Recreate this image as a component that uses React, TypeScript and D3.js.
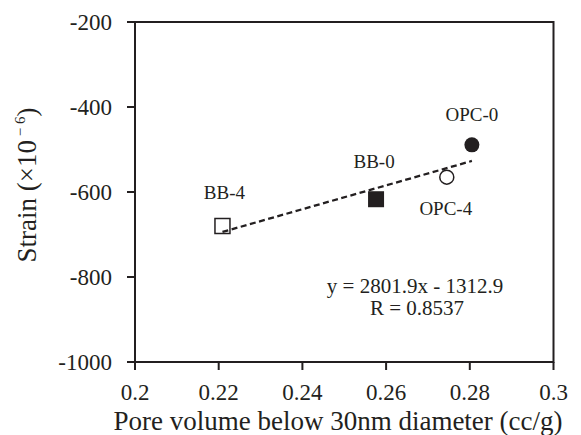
import React from "react";
import * as d3 from "d3";

const samples = ["OPC-0", "OPC-4", "BB-0", "BB-4"];
const poreVolume = [0.2805, 0.2745, 0.2576, 0.2209];
const strain = [-489, -565, -617, -680];
const markerShape = ["circle", "circle", "square", "square"];
const markerFilled = [true, false, true, false];
const labelDx = [0, -1, -2, 2];
const labelDy = [-24, 38, -31, -27];

const xTicks = [0.2, 0.22, 0.24, 0.26, 0.28, 0.3];
const yTicks = [-1000, -800, -600, -400, -200];
const slope = 2801.9;
const intercept = -1312.9;
const eqText = "y = 2801.9x - 1312.9";
const rText = "R = 0.8537";

const W = 581;
const H = 435;
const FONT = "'Liberation Serif', 'Times New Roman', serif";
const INK = "#231f20";

export default function App() {
  const x = d3.scaleLinear().domain([0.2, 0.3]).range([135, 553.5]);
  const y = d3.scaleLinear().domain([-1000, -200]).range([362, 22]);
  const x0 = d3.min(poreVolume) as number;
  const x1 = d3.max(poreVolume) as number;
  const trend = d3.line<number>()
    .x((v) => x(v))
    .y((v) => y(slope * v + intercept));

  return (
    <svg
      width={W}
      height={H}
      style={{ position: "absolute", left: 0, top: 0, background: "#fff" }}
      fontFamily={FONT}
    >
      <rect x={0} y={0} width={W} height={H} fill="#fff" />
      {/* frame */}
      <rect
        x={x(0.2)}
        y={y(-200)}
        width={x(0.3) - x(0.2)}
        height={y(-1000) - y(-200)}
        fill="none"
        stroke={INK}
        strokeWidth={2}
      />
      {/* y ticks */}
      {yTicks.map((t) => (
        <g key={"y" + t}>
          <line x1={x(0.2) - 8} x2={x(0.2)} y1={y(t)} y2={y(t)} stroke={INK} strokeWidth={2} />
          <text
            x={112}
            y={y(t)}
            dy="0.35em"
            textAnchor="end"
            fontSize={23}
            fill={INK}
          >
            {d3.format("d")(t).replace("−", "-")}
          </text>
        </g>
      ))}
      {/* x ticks */}
      {xTicks.map((t) => (
        <g key={"x" + t}>
          <line x1={x(t)} x2={x(t)} y1={y(-1000)} y2={y(-1000) + 8} stroke={INK} strokeWidth={2} />
          <text x={x(t)} y={400} textAnchor="middle" fontSize={23} fill={INK}>
            {String(t)}
          </text>
        </g>
      ))}
      {/* axis titles */}
      <text x={338} y={430} textAnchor="middle" fontSize={27} fill={INK}>
        Pore volume below 30nm diameter (cc/g)
      </text>
      <text
        transform="translate(36,185) rotate(-90)"
        textAnchor="middle"
        fontSize={27}
        fill={INK}
      >
        Strain (×10
        <tspan fontSize={15} dy={-11}>{" − 6"}</tspan>
        <tspan dy={11}>)</tspan>
      </text>
      {/* trend line */}
      <path
        d={trend([x0, x1]) || ""}
        fill="none"
        stroke={INK}
        strokeWidth={2.3}
        strokeDasharray="6,3.5"
      />
      {/* points */}
      {samples.map((s, i) => {
        const cx = x(poreVolume[i]);
        const cy = y(strain[i]);
        const fill = markerFilled[i] ? INK : "none";
        return (
          <g key={s}>
            {markerShape[i] === "circle" ? (
              <circle
                cx={cx}
                cy={cy}
                r={markerFilled[i] ? 7.5 : 7}
                fill={fill}
                stroke={INK}
                strokeWidth={markerFilled[i] ? 0 : 1.5}
              />
            ) : (
              <rect
                x={cx - (markerFilled[i] ? 8 : 7.5)}
                y={cy - (markerFilled[i] ? 8 : 7.5)}
                width={markerFilled[i] ? 16 : 15}
                height={markerFilled[i] ? 16 : 15}
                fill={fill}
                stroke={INK}
                strokeWidth={markerFilled[i] ? 0 : 1.5}
              />
            )}
            <text
              x={cx + labelDx[i]}
              y={cy + labelDy[i]}
              textAnchor="middle"
              fontSize={19}
              fill={INK}
            >
              {s}
            </text>
          </g>
        );
      })}
      {/* equation */}
      <text x={415} y={293} textAnchor="middle" fontSize={21} fill={INK}>
        {eqText}
      </text>
      <text x={417} y={315} textAnchor="middle" fontSize={21} fill={INK}>
        {rText}
      </text>
    </svg>
  );
}
